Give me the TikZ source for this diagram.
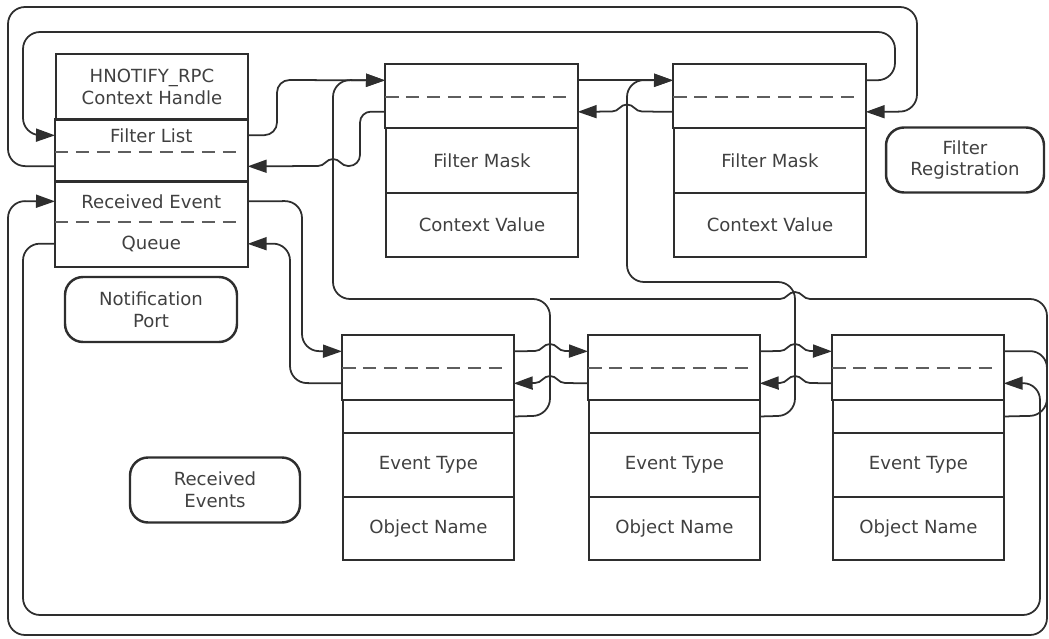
\documentclass[tikz,border=0pt]{standalone}
\usepackage{fontspec}
\setmainfont{DejaVu Sans}
\usetikzlibrary{arrows.meta}

\definecolor{lncol}{HTML}{2E2E2E}
\definecolor{txtcol}{HTML}{404040}
\definecolor{dshcol}{HTML}{5E5E5E}

\newcommand{\hopR}[2]{-- (#1-15,#2) .. controls (#1-8,#2) and (#1-7,#2-7) .. (#1,#2-7) .. controls (#1+7,#2-7) and (#1+8,#2) .. (#1+15,#2)}
\newcommand{\hopL}[2]{-- (#1+15,#2) .. controls (#1+8,#2) and (#1+7,#2-7) .. (#1,#2-7) .. controls (#1-7,#2-7) and (#1-8,#2) .. (#1-15,#2)}

\tikzset{
  fld/.style={rectangle, inner sep=0pt, anchor=north west, text=txtcol, align=center,
    font=\fontsize{10.3}{12.4}\selectfont},
  fieldw/.style={fld, minimum width=3.84cm},
  fieldn/.style={fld, minimum width=3.42cm},
  cellbox/.style={draw=lncol, line width=1.1pt},
  dashsep/.style={dshcol, line width=1.2pt, dash pattern=on 0.27cm off 0.15cm},
  roundtag/.style={draw=lncol, line width=1.4pt, rounded corners=0.36cm, minimum height=1.3cm,
    align=center, text=txtcol, font=\fontsize{10.3}{12.4}\selectfont},
  wire/.style={lncol, line width=1pt, rounded corners=0.34cm},
  wirearr/.style={wire, -{Triangle[length=0.38cm,width=0.26cm]}},
  hopwire/.style={wirearr, sharp corners},
}

\begin{document}
\begin{tikzpicture}[x=0.02cm, y=-0.02cm]
\useasboundingbox (0,0) rectangle (1049,639);

\node[fieldw, cellbox, minimum height=1.32cm] (hnd) at (55,53) {HNOTIFY\_RPC\\Context Handle};
\node[fieldw, minimum height=0.64cm] (fl-next) at (55,119) {Filter List};
\node[fieldw, minimum height=0.60cm] (fl-prev) at (55,151) {};
\node[fieldw, minimum height=0.80cm] (re-next) at (55,181) {Received Event};
\node[fieldw, minimum height=0.90cm] (re-prev) at (55,221) {Queue};
\draw[cellbox] (fl-next.north west) rectangle (fl-prev.south east);
\draw[cellbox] (re-next.north west) rectangle (re-prev.south east);
\draw[dashsep] (fl-next.south west) -- ([xshift=-0.1cm]fl-next.south east);
\draw[dashsep] (re-next.south west) -- ([xshift=-0.1cm]re-next.south east);

\foreach \i/\x in {1/385,2/673}{
  \node[fieldw, minimum height=0.64cm] (f\i-next) at (\x,64) {};
  \node[fieldw, minimum height=0.62cm] (f\i-prev) at (\x,96) {};
  \node[fieldw, cellbox, minimum height=1.30cm] (f\i-mask) at (\x,127) {Filter Mask};
  \node[fieldw, cellbox, minimum height=1.28cm] (f\i-ctx) at (\x,192) {Context Value};
  \draw[cellbox] (f\i-next.north west) rectangle (f\i-prev.south east);
  \draw[dashsep] (f\i-next.south west) -- ([xshift=-0.1cm]f\i-next.south east);
}

\foreach \i/\x in {1/342,2/588,3/832}{
  \node[fieldn, minimum height=0.64cm] (ev\i-next) at (\x,335) {};
  \node[fieldn, minimum height=0.64cm] (ev\i-prev) at (\x,367) {};
  \node[fieldn, cellbox, minimum height=0.66cm] (ev\i-flt) at (\x,399) {};
  \node[fieldn, cellbox, minimum height=1.28cm] (ev\i-type) at (\x,432) {Event Type};
  \node[fieldn, cellbox, minimum height=1.26cm] (ev\i-name) at (\x,496) {Object Name};
  \draw[cellbox] (ev\i-next.north west) rectangle (ev\i-prev.south east);
  \draw[dashsep] (ev\i-next.south west) -- ([xshift=-0.1cm]ev\i-next.south east);
}

\node[roundtag, minimum width=3.44cm] (porttag) at (151,309.5) {Notification\\Port};
\node[roundtag, minimum width=3.16cm] (regtag) at (965,160) {Filter\\Registration};
\node[roundtag, minimum width=3.40cm] (evtag) at (215,490) {Received\\Events};

\coordinate (fhop) at (348,166);
\coordinate (ghop) at (810,299);

\draw[wirearr, rounded corners=0.25cm] (fl-next.east) -- (277,135) -- (277,80) -- (f1-next.west);
\draw[wirearr] (f1-next.east) -- (f2-next.west);
\draw[wirearr] (f2-next.east) -- (895,80) -- (895,32) -- (23,32) -- (23,135) -- (fl-next.west);
\draw[wirearr] (fl-prev.west) -- (8,166) -- (8,7) -- (917,7) -- (917,111.5) -- (f2-prev.east);
\draw[hopwire] (f2-prev.west) \hopL{627}{111.5} -- (f1-prev.east);
\draw[wire, rounded corners=0.22cm] (f1-prev.west) -- (360,111.5) -- (360,166) -- (fhop);
\draw[hopwire] (fhop) \hopL{333}{166} -- (fl-prev.east);

\draw[wirearr] (ev1-flt.east) -- (550,415.5) -- (550,299) -- (333,299) -- (333,80) -- (f1-next.west);
\draw[wirearr] (ev2-flt.east) -- (795,415.5) -- (795,282) -- (627,282) -- (627,80) -- (f2-next.west);
\draw[wire] (ev3-flt.east) -- (1047,415.5) -- (1047,299) -- (ghop);
\draw[wire, sharp corners] (ghop) \hopL{795}{299} -- (550,299);

\draw[wirearr] (re-next.east) -- (302,201) -- (302,351) -- (ev1-next.west);
\draw[hopwire] (ev1-next.east) \hopR{550}{351} -- (ev2-next.west);
\draw[hopwire] (ev2-next.east) \hopR{795}{351} -- (ev3-next.west);
\draw[wirearr] (ev3-next.east) -- (1047,351) -- (1047,635) -- (8,635) -- (8,201) -- (re-next.west);
\draw[wirearr] (re-prev.west) -- (23,243.5) -- (23,615) -- (1040,615) -- (1040,383) -- (ev3-prev.east);
\draw[hopwire] (ev3-prev.west) \hopL{795}{383} -- (ev2-prev.east);
\draw[hopwire] (ev2-prev.west) \hopL{550}{383} -- (ev1-prev.east);
\draw[wirearr] (ev1-prev.west) -- (290,383) -- (290,243.5) -- (re-prev.east);
\end{tikzpicture}
\end{document}
